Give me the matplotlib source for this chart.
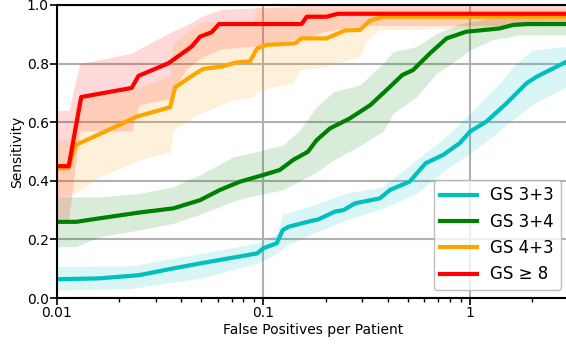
import numpy as np
import matplotlib
matplotlib.use("Agg")
import matplotlib.pyplot as plt

# ── Mean FROC curves (false positives per patient -> sensitivity) ──
fp_33 = [0.01, 0.016, 0.025, 0.0366, 0.0493, 0.0675, 0.093, 0.1, 0.116, 0.124, 0.132,
         0.168, 0.184, 0.222, 0.244, 0.277, 0.366, 0.41, 0.51, 0.61, 0.74, 0.89,
         1.0, 1.2, 1.5, 1.88, 2.1, 3.0]
sens_33 = [0.064, 0.067, 0.078, 0.101, 0.118, 0.135, 0.152, 0.17, 0.187, 0.232, 0.243,
           0.262, 0.268, 0.295, 0.30, 0.323, 0.34, 0.369, 0.397, 0.46, 0.488, 0.528,
           0.568, 0.602, 0.664, 0.733, 0.755, 0.81]

fp_34 = [0.01, 0.0124, 0.0161, 0.0252, 0.0366, 0.0493, 0.0616, 0.0769, 0.1, 0.12, 0.139,
         0.164, 0.181, 0.21, 0.262, 0.33, 0.41, 0.47, 0.53, 0.64, 0.77, 0.96, 1.07,
         1.39, 1.62, 1.88, 3.0]
sens_34 = [0.26, 0.26, 0.272, 0.292, 0.306, 0.334, 0.369, 0.397, 0.42, 0.437, 0.471,
           0.499, 0.539, 0.579, 0.613, 0.659, 0.721, 0.761, 0.778, 0.835, 0.886, 0.909,
           0.912, 0.92, 0.932, 0.935, 0.935]

fp_43 = [0.01, 0.0114, 0.0123, 0.0171, 0.0243, 0.0353, 0.0373, 0.0466, 0.0511, 0.0628,
         0.0742, 0.086, 0.0933, 0.1036, 0.142, 0.153, 0.202, 0.248, 0.293, 0.328,
         0.36, 0.38, 3.0]
sens_43 = [0.443, 0.443, 0.522, 0.568, 0.619, 0.651, 0.719, 0.765, 0.782, 0.79,
           0.804, 0.808, 0.852, 0.864, 0.869, 0.886, 0.886, 0.913, 0.915, 0.947,
           0.955, 0.96, 0.96]

fp_8 = [0.01, 0.0114, 0.0131, 0.023, 0.0248, 0.0346, 0.0449, 0.0493, 0.0561, 0.0609,
        0.153, 0.162, 0.202, 0.229, 3.0]
sens_8 = [0.45, 0.45, 0.686, 0.717, 0.758, 0.801, 0.858, 0.892, 0.907, 0.935,
          0.935, 0.96, 0.96, 0.97, 0.97]

# ── Confidence bands ──
band_fp_33 = [0.01, 0.023, 0.049, 0.093, 0.116, 0.124, 0.13, 0.174, 0.25, 0.38, 0.41,
              0.55, 0.8, 1.0, 1.34, 1.62, 1.95, 2.0, 3.0]
band_hi_33 = [0.107, 0.11, 0.152, 0.187, 0.22, 0.289, 0.289, 0.317, 0.357, 0.38, 0.40,
              0.471, 0.562, 0.63, 0.72, 0.79, 0.84, 0.846, 0.86]
band_lo_33 = [0.027, 0.033, 0.067, 0.118, 0.15, 0.17, 0.181, 0.22, 0.266, 0.306, 0.317,
              0.357, 0.448, 0.494, 0.562, 0.61, 0.653, 0.66, 0.725]

band_fp_34 = [0.01, 0.0124, 0.016, 0.025, 0.0366, 0.049, 0.0714, 0.086, 0.124, 0.15,
              0.181, 0.218, 0.293, 0.38, 0.425, 0.55, 0.69, 0.86, 1.0, 1.28, 1.75, 3.0]
band_hi_34 = [0.345, 0.345, 0.345, 0.357, 0.38, 0.42, 0.482, 0.494, 0.522, 0.573,
              0.653, 0.704, 0.727, 0.801, 0.841, 0.858, 0.903, 0.932, 0.943, 0.955,
              0.96, 0.96]
band_lo_34 = [0.175, 0.175, 0.209, 0.232, 0.255, 0.285, 0.33, 0.346, 0.369, 0.40,
              0.43, 0.471, 0.52, 0.57, 0.63, 0.687, 0.767, 0.812, 0.846, 0.881,
              0.898, 0.898]

band_fp_43 = [0.01, 0.0114, 0.0125, 0.0161, 0.0252, 0.0353, 0.0366, 0.0493, 0.0714,
              0.0893, 0.092, 0.104, 0.139, 0.15, 0.2, 0.293, 0.316, 0.366, 3.0]
band_hi_43 = [0.54, 0.54, 0.68, 0.70, 0.72, 0.76, 0.87, 0.94, 0.945, 0.945, 0.99,
              0.99, 0.99, 0.99, 0.99, 0.99, 0.99, 0.99, 0.99]
band_lo_43 = [0.345, 0.35, 0.36, 0.414, 0.471, 0.499, 0.573, 0.63, 0.676, 0.687, 0.70,
              0.716, 0.733, 0.778, 0.79, 0.824, 0.88, 0.915, 0.93]

band_fp_8 = [0.01, 0.0114, 0.0129, 0.023, 0.025, 0.035, 0.042, 0.05, 0.062, 0.09, 0.16,
             0.2, 0.3, 3.0]
band_hi_8 = [0.64, 0.64, 0.80, 0.835, 0.85, 0.905, 0.93, 0.96, 0.985, 0.99, 1.0,
             1.0, 1.0, 1.0]
band_lo_8 = [0.27, 0.27, 0.57, 0.57, 0.66, 0.68, 0.78, 0.82, 0.85, 0.86, 0.89,
             0.91, 0.93, 0.93]

labels = ["GS 3+3", "GS 3+4", "GS 4+3", "GS \u2265 8"]
colors = ["c", "g", "orange", "r"]

curves = [(fp_33, sens_33), (fp_34, sens_34), (fp_43, sens_43), (fp_8, sens_8)]
bands = [(band_fp_33, band_lo_33, band_hi_33), (band_fp_34, band_lo_34, band_hi_34),
         (band_fp_43, band_lo_43, band_hi_43), (band_fp_8, band_lo_8, band_hi_8)]

plt.rcParams["font.family"] = ["DejaVu Sans"]

fig = plt.figure(figsize=(5.66, 3.45), dpi=100)
ax = fig.add_axes([57 / 566, 47 / 345, 511.5 / 566, 293 / 345])

for (fx, fy), (bx, lo, hi), c, lab in zip(curves, bands, colors, labels):
    ax.fill_between(bx, lo, hi, color=c, alpha=0.15, linewidth=0)
    ax.plot(fx, fy, color=c, lw=3, label=lab)

ax.set_xscale("log")
ax.set_xlim(0.01, 3)
ax.set_ylim(0.0, 1.0)
ax.set_xticks([0.01, 0.1, 1])
ax.set_xticklabels(["0.01", "0.1", "1"])
ax.set_yticks(np.arange(0, 1.01, 0.2))
ax.set_yticklabels([f"{v:.1f}" for v in np.arange(0, 1.01, 0.2)])
ax.tick_params(axis="both", which="major", labelsize=10, length=5, width=1.2, pad=1)
ax.tick_params(axis="x", which="minor", length=3, width=1)

ax.grid(True, which="major", color="#b0b0b0", lw=1.5)
ax.set_axisbelow(True)
for s in ["left", "bottom", "top"]:
    ax.spines[s].set_linewidth(1.5)
ax.spines["right"].set_visible(False)

ax.set_xlabel("False Positives per Patient", fontsize=10, labelpad=2)
ax.set_ylabel("Sensitivity", fontsize=10, labelpad=2)

ax.legend(loc="lower right", bbox_to_anchor=(0.985, 0.027), borderaxespad=0,
          fontsize=12, handlelength=2.2, edgecolor="#b0b0b0")

fig.savefig("out.png", dpi=100)
